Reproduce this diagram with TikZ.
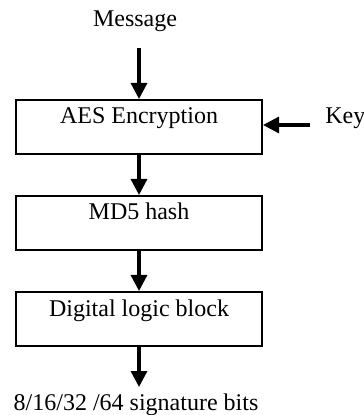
\documentclass[tikz,border=0pt]{standalone}
\usepackage{fontspec}
\setmainfont{Liberation Serif}
\usetikzlibrary{arrows.meta}
\begin{document}
\begin{tikzpicture}[x=0.5pt,y=-0.5pt,
  blockbox/.style={draw, line width=1pt, minimum width=123pt, inner sep=0pt,
    text height=12pt, text depth=15pt, font=\fontsize{12}{14}\selectfont},
  lbl/.style={inner sep=0pt, anchor=base, font=\fontsize{12}{14}\selectfont},
  flow/.style={line width=1.6pt, -{Triangle[length=8pt,width=8pt]}}]
\useasboundingbox (0,0) rectangle (363,415);
\node[lbl] (msg) at (135,27) {Message};
\coordinate (msgout) at (139,48);
\node[blockbox] (aes) at (139,127) {AES Encryption};
\node[blockbox] (md5) at (139,223) {MD5 hash};
\node[blockbox] (dlb) at (139,319) {Digital logic block};
\node[lbl, anchor=base west] (key) at (325,124) {Key};
\coordinate (keyin) at (310,125);
\coordinate (outend) at (139,387);
\node[lbl] (out) at (136,410) {8/16/32 /64 signature bits};
\draw[flow] (msgout) -- (aes.north);
\draw[flow] (keyin) -- (aes.east |- keyin);
\draw[flow] (aes.south) -- (md5.north);
\draw[flow] (md5.south) -- (dlb.north);
\draw[flow] (dlb.south) -- (outend);
\end{tikzpicture}
\end{document}
